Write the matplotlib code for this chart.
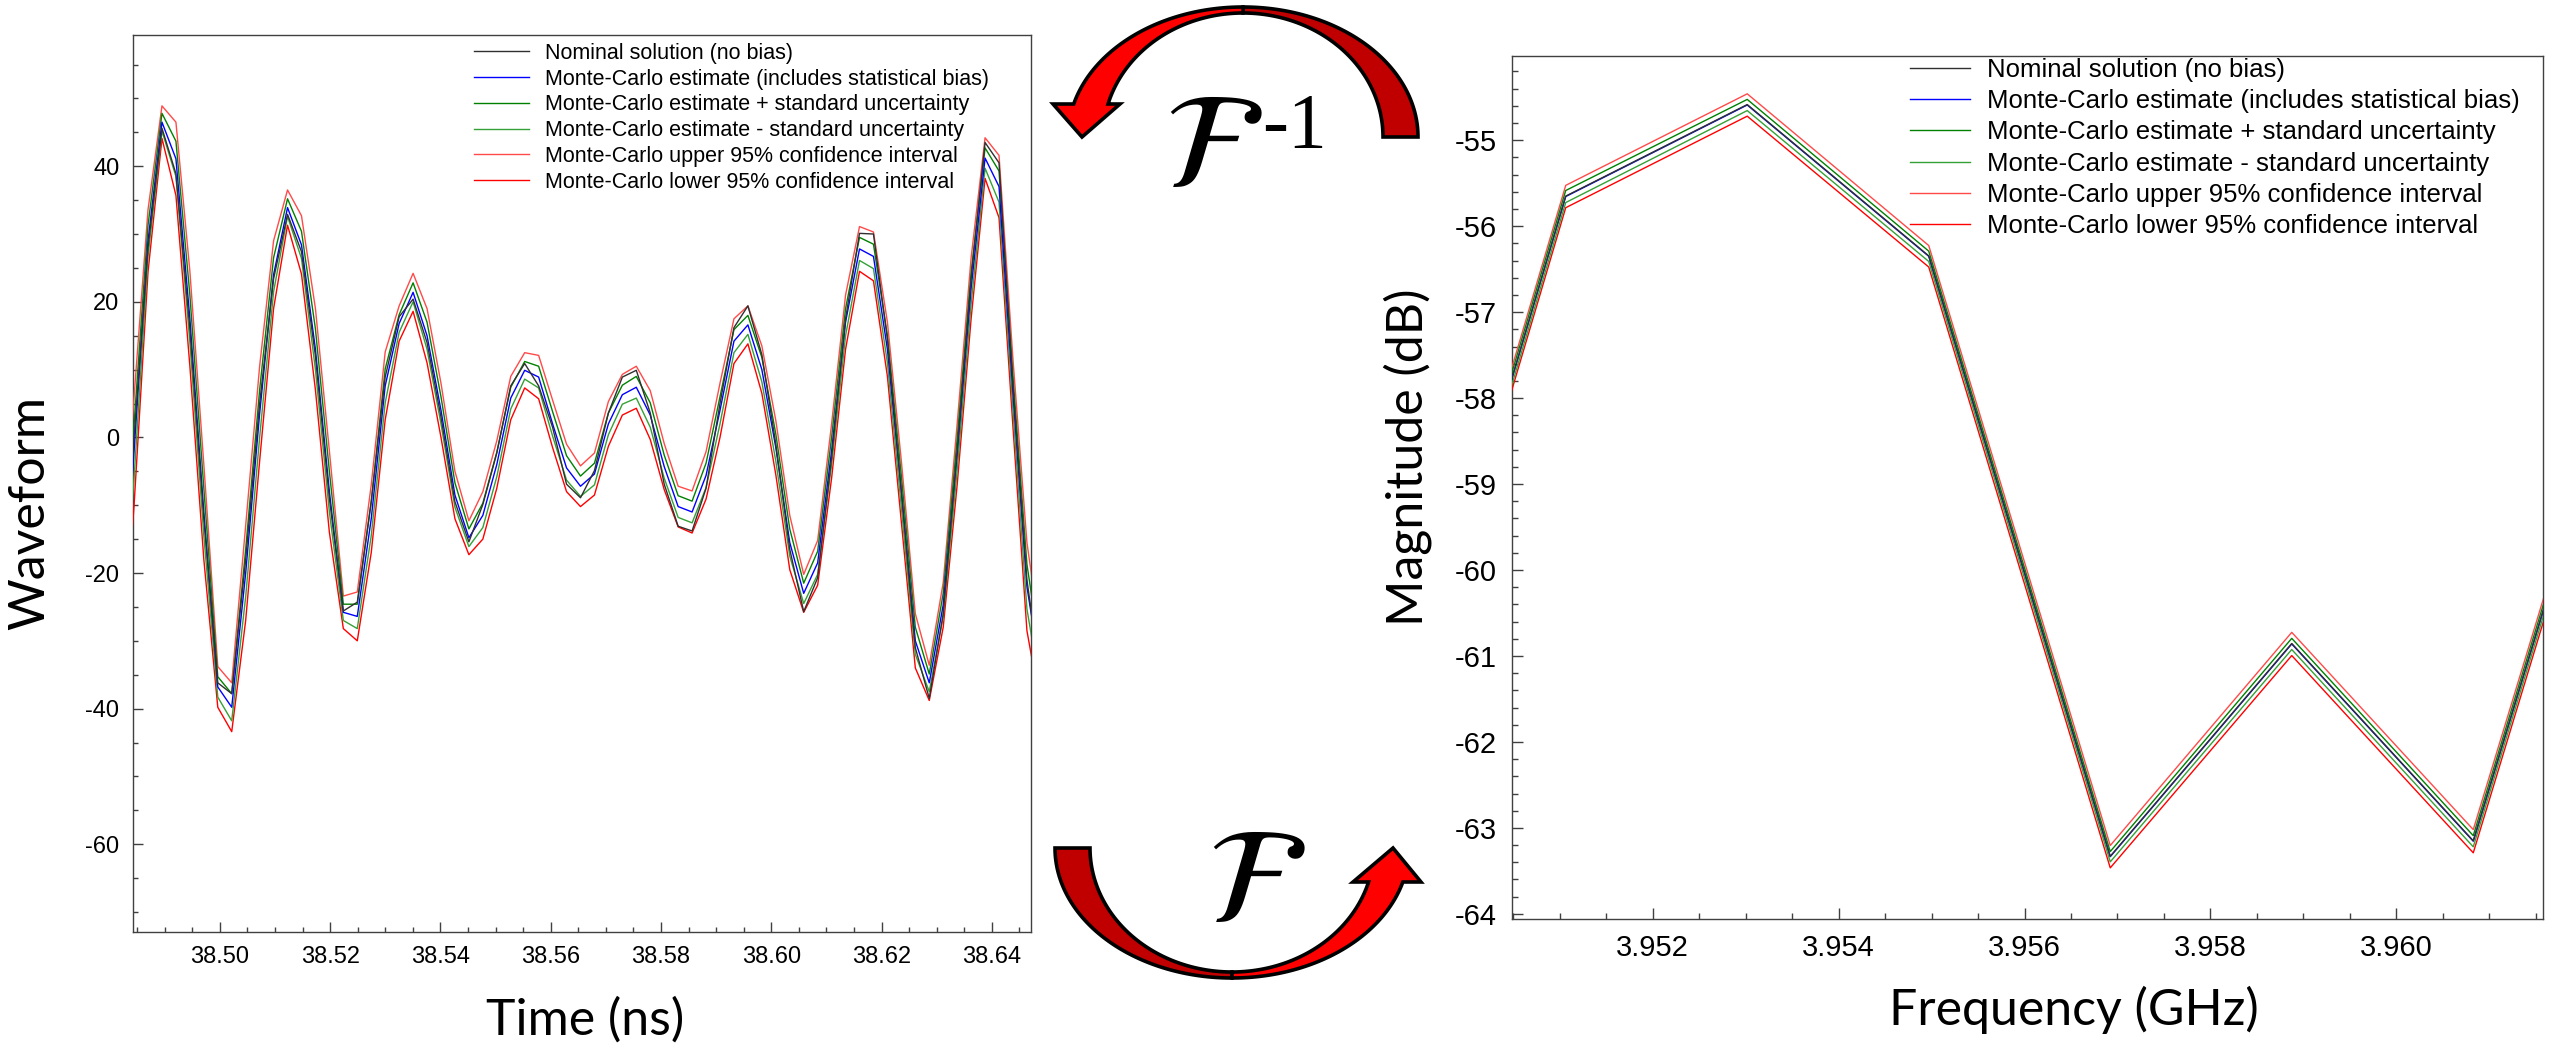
import numpy as np
import matplotlib
matplotlib.use("Agg")
import matplotlib.pyplot as plt
from matplotlib.ticker import MultipleLocator, FormatStrFormatter
from matplotlib.patches import Polygon

plt.rcParams['font.family'] = ['Liberation Sans', 'DejaVu Sans']
plt.rcParams['axes.unicode_minus'] = False
plt.rcParams['mathtext.fontset'] = 'stix'

# ---------------- data: time-domain waveform ----------------
t_start = 38.48191          # ns, first sample
dt = 0.00253                # ns, sample spacing
nominal = [-28, 0, 28, 45.6, 38.9, 16, -12, -36.2, -37.8, -18, 5, 23.4, 32.9, 27.4, 12, -9,
           -25.6, -24.3, -9.5, 8.9, 17.8, 20.4, 14, 3, -9.5, -15.4, -9.9, -2.3, 7.6, 10.9, 7.6,
           1.5, -6.9, -8.9, -4.9, 3.6, 8.9, 9.9, 3.6, -6.9, -13.1, -13.8, -7.5, 5, 16.2, 19.4,
           12.2, -1, -16.5, -25.7, -20.7, -3, 17.5, 30.1, 30, 14.5, -8, -31, -38.5, -26, -2,
           23.4, 43.5, 40.5, 7.6, -21, -36]
estimate = [-30, -2, 29, 46.5, 41.1, 17.5, -11, -36.8, -39.8, -20, 3.5, 24, 33.9, 28.4, 13, -8,
            -25.8, -26.4, -12, 7.6, 16.8, 21.4, 15, 4, -8.5, -14.8, -11.5, -4, 5.8, 9.9, 8.9,
            2, -4.5, -7.2, -5.4, 2, 6.3, 7.4, 3.3, -4.3, -10.2, -11, -5.6, 4, 14.2, 16.6,
            10, -1.5, -15.5, -23, -18.5, -2, 17, 27.8, 26.7, 13, -8, -30, -36.2, -24.7, -2.5,
            22, 41.2, 37, 6.5, -22, -35]
std_unc = [3.5, 4, 2.3, 1.3, 2.6, 3.5, 3.5, 1.5, 2.0, 3.5, 3.5, 2.5, 1.3, 2.0, 3, 3,
           1.2, 1.8, 2.5, 2.5, 1.3, 1.4, 2, 2, 1.8, 1.3, 1.8, 1.8, 1.6, 1.3, 1.6,
           1.8, 1.8, 1.5, 1.6, 1.6, 1.4, 1.6, 1.8, 1.7, 1.6, 1.6, 1.8, 2, 1.7, 1.4,
           1.8, 2, 2, 1.5, 1.7, 2, 2, 1.7, 1.8, 2, 2.3, 2, 1.3, 1.7, 2.3,
           2.3, 1.5, 2.3, 2.5, 3.3, 2.5]
ci_95 = [7, 8, 4.6, 2.4, 5.4, 7, 7, 3, 3.6, 7, 7, 5, 2.6, 4.3, 6, 6,
         2.4, 3.6, 5, 5, 2.6, 2.8, 4, 4, 3.5, 2.5, 3.5, 3.5, 3.2, 2.6, 3.2,
         3.5, 3.5, 3, 3.1, 3.3, 3, 3.1, 3.6, 3.4, 3, 3.1, 3.5, 4, 3.3, 2.8,
         3.5, 4, 4, 2.8, 3.3, 4, 4, 3.3, 3.6, 4, 4.5, 4, 2.6, 3.3, 4.5,
         4.5, 3, 4.6, 5, 6.5, 5]

# ---------------- data: frequency-domain magnitude ----------------
f_start = 3.94911           # GHz
df = 0.001953               # GHz
nominal_db = [-62.8, -55.65, -54.585, -56.345, -63.33, -60.855, -63.15, -56.2]
estimate_db = [-62.8, -55.655, -54.59, -56.35, -63.335, -60.86, -63.155, -56.2]
std_db = [0.07, 0.07, 0.065, 0.06, 0.06, 0.065, 0.065, 0.07]
ci_db = [0.13, 0.13, 0.13, 0.125, 0.13, 0.135, 0.135, 0.13]

labels = ["Nominal solution (no bias)",
          "Monte-Carlo estimate (includes statistical bias)",
          "Monte-Carlo estimate + standard uncertainty",
          "Monte-Carlo estimate - standard uncertainty",
          "Monte-Carlo upper 95% confidence interval",
          "Monte-Carlo lower 95% confidence interval"]
colors = ['#303030', '#0000ff', '#008000', '#35a035', '#ff4a4a', '#ff0000']

W, H = 2552, 1046
fig = plt.figure(figsize=(W / 100, H / 100), dpi=100)


def fig_rect(x0, y0, x1, y1):
    return [x0 / W, 1 - y1 / H, (x1 - x0) / W, (y1 - y0) / H]


def draw_series(ax, x, nom, est, su, ci, lw):
    nom, est, su, ci = map(np.asarray, (nom, est, su, ci))
    series = [nom, est, est + su, est - su, est + ci, est - ci]
    handles = {}
    for i in [5, 4, 3, 2, 1, 0]:
        ln, = ax.plot(x, series[i], color=colors[i], lw=lw, zorder=3 + (6 - i) * 0.1)
        handles[i] = ln
    return [handles[i] for i in range(6)]


def style_axes(ax, major_len, minor_len):
    for s in ax.spines.values():
        s.set_color('#404040')
        s.set_linewidth(1.0)
    ax.tick_params(which='both', direction='in', top=False, right=False, colors='#404040')
    ax.tick_params(which='major', length=major_len, width=1.0)
    ax.tick_params(which='minor', length=minor_len, width=1.0)


# ---------- left: waveform ----------
ax1 = fig.add_axes(fig_rect(133.3, 34.7, 1031, 932))
time = t_start + dt * np.arange(len(nominal))
h1 = draw_series(ax1, time, nominal, estimate, std_unc, ci_95, 1.0)
ax1.set_xlim(38.4843, 38.6471)
ax1.set_ylim(-72.95, 59.4)
ax1.xaxis.set_major_locator(MultipleLocator(0.02))
ax1.xaxis.set_minor_locator(MultipleLocator(0.005))
ax1.yaxis.set_major_locator(MultipleLocator(20))
ax1.yaxis.set_minor_locator(MultipleLocator(5))
ax1.xaxis.set_major_formatter(FormatStrFormatter('%.2f'))
ax1.yaxis.set_major_formatter(FormatStrFormatter('%d'))
style_axes(ax1, 7, 3.5)
ax1.tick_params(axis='both', which='major', labelsize=17, pad=10, labelcolor='black')
ax1.legend(h1, labels, loc='upper left', bbox_to_anchor=(474 / W, 1 - 43 / H),
           bbox_transform=fig.transFigure, frameon=False, fontsize=15.5,
           handlelength=2.55, handletextpad=0.75, labelspacing=0.22,
           borderpad=0, borderaxespad=0)

# ---------- right: magnitude ----------
ax2 = fig.add_axes(fig_rect(1512, 56, 2542.6, 919))
freq = f_start + df * np.arange(len(nominal_db))
h2 = draw_series(ax2, freq, nominal_db, estimate_db, std_db, ci_db, 1.0)
ax2.set_xlim(3.950485, 3.961574)
ax2.set_ylim(-64.06, -54.02)
ax2.xaxis.set_major_locator(MultipleLocator(0.002))
ax2.xaxis.set_minor_locator(MultipleLocator(0.0005))
ax2.yaxis.set_major_locator(MultipleLocator(1))
ax2.yaxis.set_minor_locator(MultipleLocator(0.2))
ax2.xaxis.set_major_formatter(FormatStrFormatter('%.3f'))
ax2.yaxis.set_major_formatter(FormatStrFormatter('%d'))
style_axes(ax2, 8, 4.3)
ax2.tick_params(axis='both', which='major', labelsize=21, pad=11, labelcolor='black')
ax2.legend(h2, labels, loc='upper left', bbox_to_anchor=(1910 / W, 1 - 58 / H),
           bbox_transform=fig.transFigure, frameon=False, fontsize=18.5,
           handlelength=2.35, handletextpad=0.65, labelspacing=0.28,
           borderpad=0, borderaxespad=0)

# ---------- axis titles ----------
lab = dict(family=['Lato', 'DejaVu Sans'], fontsize=36, color='black', ha='center', va='center')
fig.text(30 / W, 1 - 513 / H, "Waveform", rotation=90, **lab)
fig.text(585 / W, 1 - 1020 / H, "Time (ns)", **lab)
fig.text(1408 / W, 1 - 457 / H, "Magnitude (dB)", rotation=90, **lab)
fig.text(2074 / W, 1 - 1010 / H, "Frequency (GHz)", **lab)

# ---------- decorative curved arrows and transform symbols ----------
ov = fig.add_axes([0, 0, 1, 1])
ov.set_xlim(0, W)
ov.set_ylim(H, 0)
ov.axis('off')
ov.patch.set_alpha(0)


def arc(cx, cy, rx, ry, t0, t1, sign, n=80):
    t = np.linspace(t0, t1, n)
    return np.c_[cx + rx * np.cos(t), cy + sign * ry * np.sin(t)]


edge = dict(edgecolor='black', linewidth=2.6, joinstyle='miter')
# top arrow (inverse transform), pointing left/down
cx, cy = 1243, 137
rxo, ryo, rxi, ryi = 175, 130, 140, 124
back = np.vstack([arc(cx, cy, rxo, ryo, 0, np.pi / 2, -1), arc(cx, cy, rxi, ryi, np.pi / 2, 0, -1)])
to_end = np.pi - np.arcsin(33 / ryo)
ti_end = np.pi - np.arcsin(33 / ryi)
front = np.vstack([arc(cx, cy, rxo, ryo, np.pi / 2, to_end, -1),
                   [[1053, 104], [1082, 137], [1120, 104]],
                   arc(cx, cy, rxi, ryi, ti_end, np.pi / 2, -1)])
ov.add_patch(Polygon(back, closed=True, facecolor='#c00000', **edge))
ov.add_patch(Polygon(front, closed=True, facecolor='#ff0000', **edge))

# bottom arrow (forward transform), pointing right/up
cx, cy = 1232, 848
rxo, ryo, rxi, ryi = 177, 130, 142, 124
back = np.vstack([arc(cx, cy, rxo, ryo, np.pi, np.pi / 2, 1), arc(cx, cy, rxi, ryi, np.pi / 2, np.pi, 1)])
to_end = np.arcsin(34 / ryo)
ti_end = np.arcsin(34 / ryi)
front = np.vstack([arc(cx, cy, rxo, ryo, np.pi / 2, to_end, 1),
                   [[1421, 882], [1393, 848], [1353, 882]],
                   arc(cx, cy, rxi, ryi, ti_end, np.pi / 2, 1)])
ov.add_patch(Polygon(back, closed=True, facecolor='#c00000', **edge))
ov.add_patch(Polygon(front, closed=True, facecolor='#ff0000', **edge))

ov.text(1213, 152, r'$\mathcal{F}$', fontsize=98, ha='center', va='center', color='black')
ov.text(1262, 147, '-1', fontsize=56, family=['Liberation Serif', 'DejaVu Serif'],
        ha='left', va='baseline', color='black')
ov.text(1256, 887, r'$\mathcal{F}$', fontsize=98, ha='center', va='center', color='black')

fig.savefig('out.png', dpi=100, facecolor='white')
